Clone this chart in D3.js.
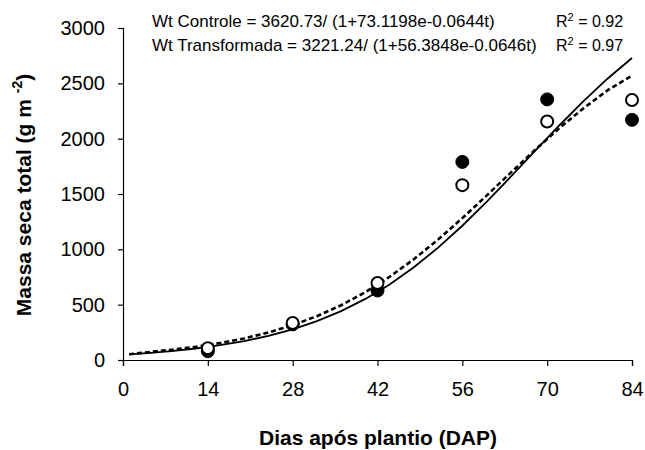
<!DOCTYPE html>
<html>
<head>
<meta charset="utf-8">
<script src="https://cdn.jsdelivr.net/npm/d3@7"></script>
<style>
  html, body { margin: 0; padding: 0; background: #fff; }
  svg { display: block; }
  text { font-family: "Liberation Sans", Arial, sans-serif; fill: #000; }
</style>
</head>
<body>
<svg id="chart" width="645" height="450"></svg>
<script>
// ---- data ----
const xTicks = [0, 14, 28, 42, 56, 70, 84];
const yTicks = [0, 500, 1000, 1500, 2000, 2500, 3000];
const obsDays = [14, 28, 42, 56, 70, 84];
const obsControle = [80, 322, 628, 1790, 2355, 2170];
const obsTransformada = [106, 335, 696, 1580, 2155, 2350];
const curveDays = [1, 4, 8, 12, 16, 20, 24, 28, 32, 36, 40, 44, 48, 52, 56, 60, 64, 68, 72, 76, 80, 84];
const curveControle = [50, 63, 81, 104, 134, 171, 218, 277, 351, 442, 552, 683, 838, 1015, 1213, 1428, 1656, 1889, 2119, 2339, 2544, 2729];
const curveTransformada = [52, 70, 93, 119, 153, 195, 249, 315, 396, 495, 613, 752, 911, 1088, 1282, 1485, 1693, 1898, 2094, 2275, 2438, 2570];
const eqLines = [
  {eq: "Wt Controle = 3620.73/ (1+73.1198e-0.0644t)", r2: "0.92"},
  {eq: "Wt Transformada = 3221.24/ (1+56.3848e-0.0646t)", r2: "0.97"}
];
const xTitle = "Dias após plantio (DAP)";

// ---- layout ----
const svg = d3.select("#chart");
const x = d3.scaleLinear().domain([0, 84]).range([123, 632]);
const y = d3.scaleLinear().domain([0, 3000]).range([360, 28]);

// axes
const xAxis = d3.axisBottom(x).tickValues(xTicks).tickSize(6).tickPadding(16).tickFormat(d3.format("d"));
const yAxis = d3.axisLeft(y).tickValues(yTicks).tickSize(5).tickPadding(13).tickFormat(d3.format("d"));

const gx = svg.append("g").attr("transform", "translate(0,360)").call(xAxis);
const gy = svg.append("g").attr("transform", "translate(123,0)").call(yAxis);
[gx, gy].forEach(g => {
  g.select(".domain").attr("stroke", "#000").attr("stroke-width", 1.2);
  g.selectAll(".tick line").attr("stroke", "#000").attr("stroke-width", 1.2);
  g.selectAll(".tick text").style("font-family", "'Liberation Sans', Arial, sans-serif")
    .style("font-size", "20px").attr("fill", "#000");
});

// curves
const line = d3.line().x(d => x(d[0])).y(d => y(d[1]));
svg.append("path")
  .datum(curveDays.map((d, i) => [d, curveControle[i]]))
  .attr("d", line).attr("fill", "none").attr("stroke", "#000").attr("stroke-width", 1.8);
svg.append("path")
  .datum(curveDays.map((d, i) => [d, curveTransformada[i]]))
  .attr("d", line).attr("fill", "none").attr("stroke", "#000").attr("stroke-width", 2.6)
  .attr("stroke-dasharray", "5,3");

// points
svg.append("g").selectAll("circle")
  .data(obsDays.map((d, i) => [d, obsControle[i]]))
  .join("circle")
  .attr("cx", d => x(d[0])).attr("cy", d => y(d[1])).attr("r", 6.5)
  .attr("fill", "#000").attr("stroke", "#000").attr("stroke-width", 1);
svg.append("g").selectAll("circle")
  .data(obsDays.map((d, i) => [d, obsTransformada[i]]))
  .join("circle")
  .attr("cx", d => x(d[0])).attr("cy", d => y(d[1])).attr("r", 6)
  .attr("fill", "#fff").attr("stroke", "#000").attr("stroke-width", 2);

// equations
eqLines.forEach((l, i) => {
  const by = 27 + i * 24;
  svg.append("text").attr("x", 152).attr("y", by).style("font-size", "17px").text(l.eq);
  const t = svg.append("text").attr("x", 556).attr("y", by).style("font-size", "16px");
  t.append("tspan").text("R");
  t.append("tspan").attr("dy", -6).style("font-size", "11px").text("2");
  t.append("tspan").attr("dy", 6).text(" = " + l.r2);
});

// axis titles
svg.append("text").attr("x", 378).attr("y", 445).attr("text-anchor", "middle")
  .style("font-size", "21px").style("font-weight", "bold").text(xTitle);

const yt = svg.append("text")
  .attr("transform", "translate(31,195) rotate(-90)")
  .attr("text-anchor", "middle")
  .style("font-size", "21px").style("font-weight", "bold");
yt.append("tspan").text("Massa seca total (g m  ");
yt.append("tspan").attr("dy", -9).style("font-size", "14px").text("-2");
yt.append("tspan").attr("dy", 9).text(")");
</script>
</body>
</html>
